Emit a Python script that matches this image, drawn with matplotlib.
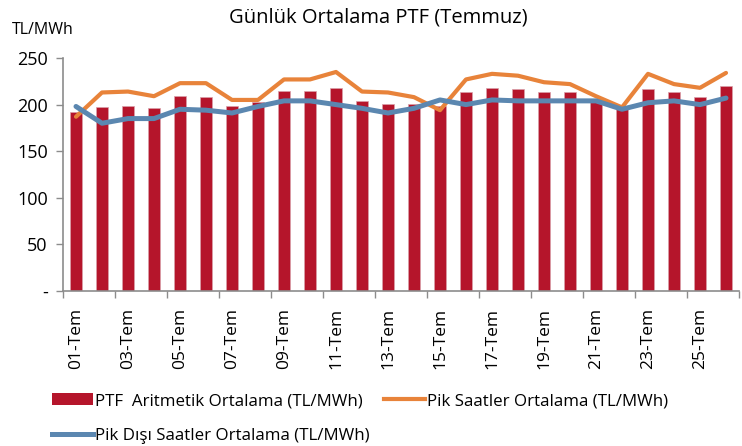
import matplotlib
matplotlib.use("Agg")
import matplotlib.pyplot as plt
import numpy as np
from matplotlib.patches import Patch
from matplotlib.lines import Line2D

plt.rcParams['font.family'] = ['Open Sans', 'DejaVu Sans']

days = [f"{d:02d}-Tem" for d in range(1, 27)]
ptf = [192, 197, 199, 196, 209, 208, 199, 203, 215, 215, 218, 204,
       201, 201, 199, 213, 218, 217, 213, 213, 204, 197, 217, 213, 208, 220]
pik = [187, 213, 214, 209, 223, 223, 205, 205, 227, 227, 235, 214,
       213, 208, 194, 227, 233, 231, 224, 222, 209, 197, 233, 222, 218, 234]
pik_disi = [198, 180, 185, 185, 195, 194, 191, 198, 204, 204, 200, 196,
            191, 196, 205, 200, 205, 204, 204, 204, 204, 195, 202, 204, 200, 207]

bar_color = '#B5152B'
orange = '#E8833A'
blue = '#5B87B0'
grey = '#8C8C8C'

fig = plt.figure(figsize=(7.42, 4.46), dpi=100)
W, H = 742, 446
ax = fig.add_axes([63 / W, 1 - 291 / H, (739 - 63) / W, (291 - 58) / H])

x = np.arange(len(days))
ax.bar(x, ptf, width=0.44, color=bar_color, edgecolor='#D9A0AA', linewidth=0.5, zorder=2)
ax.plot(x, pik, color=orange, lw=3.0, zorder=3, solid_joinstyle='round', solid_capstyle='round')
ax.plot(x, pik_disi, color=blue, lw=3.6, zorder=4, solid_joinstyle='round', solid_capstyle='round')

ax.set_xlim(-0.5, len(days) - 0.5)
ax.set_ylim(0, 250)
ax.set_yticks([0, 50, 100, 150, 200, 250])
ax.set_yticklabels(['-', '50', '100', '150', '200', '250'])

ax.set_xticks(np.arange(-0.5, len(days), 2))
ax.set_xticklabels([])
ax.set_xticks(x[::2], minor=True)
ax.set_xticklabels(days[::2], minor=True, rotation=90, fontsize=12.5)
ax.tick_params(axis='x', which='minor', length=0, pad=12)
ax.tick_params(axis='x', which='major', length=5, color=grey, width=1)
ax.tick_params(axis='y', length=5, color=grey, width=1, labelsize=13, pad=6)

for s in ['top', 'right']:
    ax.spines[s].set_visible(False)
for s in ['left', 'bottom']:
    ax.spines[s].set_color(grey)
    ax.spines[s].set_linewidth(1.2)

fig.text(378 / W, 1 - 18 / H, 'Günlük Ortalama PTF (Temmuz)', ha='center', va='center', fontsize=14.5)
fig.text(12 / W, 1 - 30 / H, 'TL/MWh', ha='left', va='center', fontsize=11.5)

handles = [Patch(facecolor=bar_color, edgecolor='none'),
           Line2D([0], [0], color=blue, lw=3.6),
           Line2D([0], [0], color=orange, lw=3.0)]
labels = ['PTF  Aritmetik Ortalama (TL/MWh)',
          'Pik Dışı Saatler Ortalama (TL/MWh)',
          'Pik Saatler Ortalama (TL/MWh)']
fig.legend(handles, labels, ncol=2, loc='upper left', bbox_to_anchor=(52 / W, 1 - 393 / H),
           frameon=False, fontsize=12.2, handlelength=2.4, handletextpad=0.15,
           columnspacing=0.85, labelspacing=1.1, borderaxespad=0, borderpad=0)

fig.savefig('out.png', dpi=100)
